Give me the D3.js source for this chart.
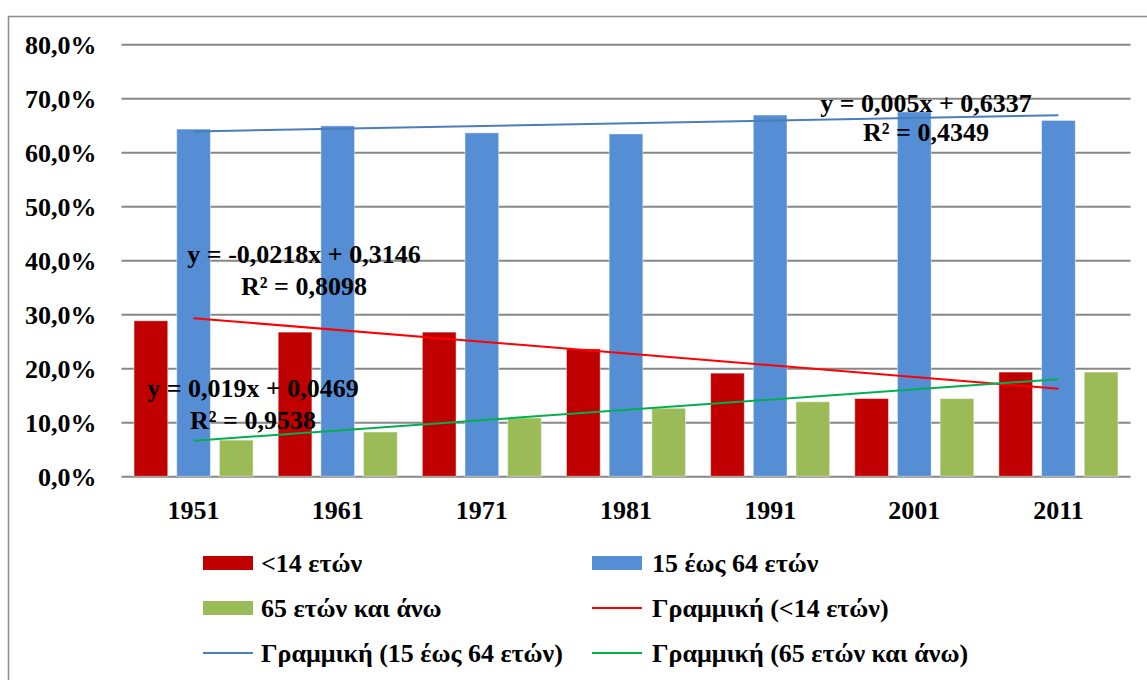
<!DOCTYPE html>
<html>
<head>
<meta charset="utf-8">
<script src="https://cdn.jsdelivr.net/npm/d3@7"></script>
<style>
	body { margin: 0; background: #fff; }
	svg { display: block; }
	text { font-family: "Liberation Serif", "Times New Roman", serif; font-weight: bold; fill: #000; }
</style>
</head>
<body>
<svg width="1147" height="680"></svg>
<script>
// values
let years = ["1951", "1961", "1971", "1981", "1991", "2001", "2011"];
let under14 = [0.288, 0.267, 0.267, 0.236, 0.191, 0.144, 0.193];
let age15to64 = [0.643, 0.649, 0.636, 0.634, 0.669, 0.675, 0.659];
let over65 = [0.067, 0.082, 0.108, 0.126, 0.138, 0.144, 0.193];
let series_names = ["<14 ετών", "15 έως 64 ετών", "65 ετών και άνω"];
let trend_names = ["Γραμμική (<14 ετών)", "Γραμμική (15 έως 64 ετών)", "Γραμμική (65 ετών και άνω)"];
let trend_slope = [-0.0218, 0.005, 0.019];
let trend_intercept = [0.3146, 0.6337, 0.0469];
let trend_eq = ["y = -0,0218x + 0,3146", "y = 0,005x + 0,6337", "y = 0,019x + 0,0469"];
let trend_r2 = ["R² = 0,8098", "R² = 0,4349", "R² = 0,9538"];
let y_ticks = [0, 0.1, 0.2, 0.3, 0.4, 0.5, 0.6, 0.7, 0.8];

function draw_chart() {
	let svg = d3.select("svg");
	let bar_colors = ["#c00000", "#558ed5", "#9bbb59"];
	let line_colors = ["#ff0000", "#4a7ebb", "#00b050"];
	let values = [under14, age15to64, over65];

	let plot = { left: 121.5, right: 1130.5, top: 44.3, bottom: 476.3 };

	// outer frame
	svg.append("rect")
		.attr("x", 8.5).attr("y", 16.5)
		.attr("width", 1200).attr("height", 700)
		.attr("fill", "none")
		.attr("stroke", "#8c8c8c")
		.attr("stroke-width", 1.5);

	let x = d3.scaleBand()
		.domain(years)
		.range([plot.left, plot.right])
		.paddingInner(0.174)
		.paddingOuter(0.087);
	let x_inner = d3.scaleBand()
		.domain([0, 1, 2])
		.range([0, x.bandwidth()])
		.paddingInner(0.21);
	let y = d3.scaleLinear()
		.domain([0, 0.8])
		.range([plot.bottom, plot.top]);

	let locale = d3.formatLocale({ decimal: ",", thousands: ".", grouping: [3], currency: ["", "€"] });
	let pct = locale.format(".1%");

	// gridlines + y labels
	let y_axis = svg.append("g")
		.attr("transform", "translate(" + plot.left + ",0)")
		.call(d3.axisLeft(y)
			.tickValues(y_ticks)
			.tickFormat(pct)
			.tickSize(-(plot.right - plot.left))
			.tickPadding(25));
	y_axis.select(".domain").remove();
	y_axis.selectAll(".tick line")
		.attr("stroke", "#878787")
		.attr("stroke-width", 2);
	y_axis.selectAll(".tick text")
		.style("font-size", "26px")
		.attr("dy", "0.36em");

	// bars
	let groups = svg.append("g").selectAll("g")
		.data(years)
		.enter()
		.append("g")
		.attr("transform", function(d) { return "translate(" + x(d) + ",0)"; });
	groups.selectAll("rect")
		.data(function(d, i) { return values.map(function(v, s) { return { s: s, v: v[i] }; }); })
		.enter()
		.append("rect")
		.attr("x", function(d) { return x_inner(d.s); })
		.attr("width", x_inner.bandwidth())
		.attr("y", function(d) { return y(d.v); })
		.attr("height", function(d) { return plot.bottom - y(d.v); })
		.attr("fill", function(d) { return bar_colors[d.s]; })
		.attr("stroke", "#ffffff")
		.attr("stroke-opacity", 0.45)
		.attr("stroke-width", 1);

	// x labels
	let x_axis = svg.append("g")
		.attr("transform", "translate(0," + plot.bottom + ")")
		.call(d3.axisBottom(x).tickSize(0).tickPadding(24));
	x_axis.select(".domain").remove();
	x_axis.selectAll(".tick text")
		.style("font-size", "26px");

	// trendlines over x = 1..7
	let line_generator = d3.line()
		.x(function(d) { return x(years[d[0] - 1]) + x.bandwidth() / 2; })
		.y(function(d) { return y(d[1]); });
	trend_slope.forEach(function(m, s) {
		let pts = [1, years.length].map(function(k) { return [k, m * k + trend_intercept[s]]; });
		svg.append("path")
			.attr("d", line_generator(pts))
			.attr("fill", "none")
			.attr("stroke", line_colors[s])
			.attr("stroke-width", 2);
	});

	// equation labels
	let eq_pos = [
		{ x: 304, y: 263, gap: 32 },
		{ x: 926, y: 112, gap: 29 },
		{ x: 253, y: 397, gap: 32 }
	];
	trend_eq.forEach(function(eq, s) {
		let t = svg.append("text")
			.attr("text-anchor", "middle")
			.style("font-size", "26px");
		t.append("tspan").attr("x", eq_pos[s].x).attr("y", eq_pos[s].y).text(eq);
		t.append("tspan").attr("x", eq_pos[s].x).attr("y", eq_pos[s].y + eq_pos[s].gap).text(trend_r2[s]);
	});

	// legend
	let legend_items = [
		{ name: series_names[0], kind: "bar", color: bar_colors[0] },
		{ name: series_names[1], kind: "bar", color: bar_colors[1] },
		{ name: series_names[2], kind: "bar", color: bar_colors[2] },
		{ name: trend_names[0], kind: "line", color: line_colors[0] },
		{ name: trend_names[1], kind: "line", color: line_colors[1] },
		{ name: trend_names[2], kind: "line", color: line_colors[2] }
	];
	let col_x = [203, 592];
	let row_y = [563, 608, 653];
	let legend = svg.append("g").selectAll("g")
		.data(legend_items)
		.enter()
		.append("g")
		.attr("transform", function(d, i) {
			return "translate(" + col_x[i % 2] + "," + row_y[Math.floor(i / 2)] + ")";
		});
	legend.filter(function(d) { return d.kind == "bar"; })
		.append("rect")
		.attr("x", 0).attr("y", -7)
		.attr("width", 50).attr("height", 14)
		.attr("fill", function(d) { return d.color; });
	legend.filter(function(d) { return d.kind == "line"; })
		.append("line")
		.attr("x1", 0).attr("x2", 50)
		.attr("y1", 0).attr("y2", 0)
		.attr("stroke", function(d) { return d.color; })
		.attr("stroke-width", 2);
	legend.append("text")
		.attr("x", function(d, i) { return i % 2 == 0 ? 58 : 60; })
		.attr("y", 0)
		.attr("dy", "0.35em")
		.style("font-size", "26px")
		.text(function(d) { return d.name; });
}

draw_chart();
</script>
</body>
</html>
